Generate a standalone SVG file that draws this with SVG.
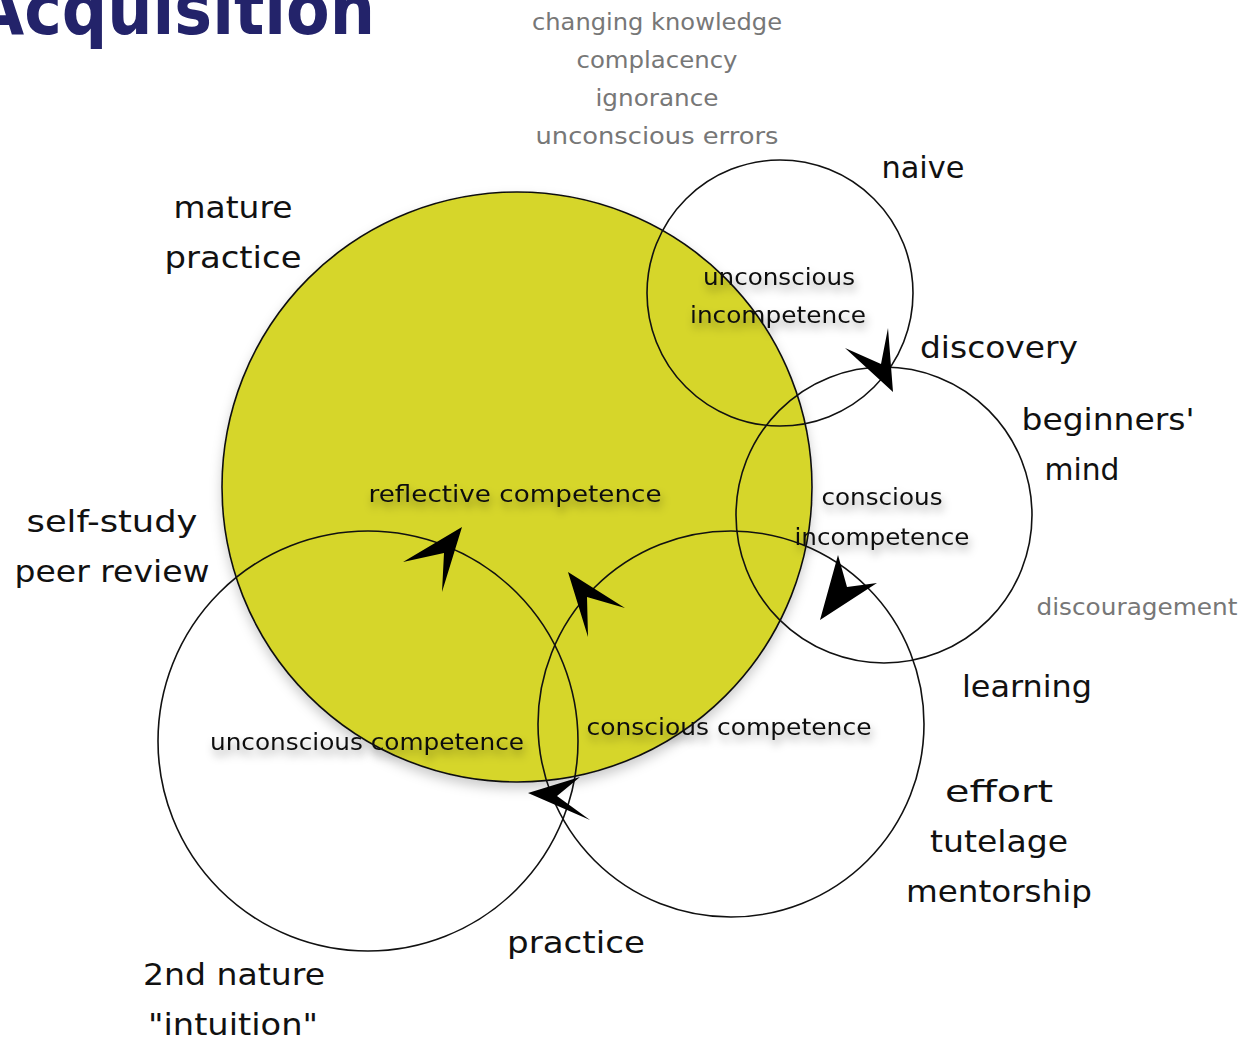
<svg xmlns="http://www.w3.org/2000/svg" width="1244" height="1044" viewBox="0 0 1244 1044">
<defs>
<style>
.c{fill:none;stroke:#111;stroke-width:1.6}
.lbl{font-family:"DejaVu Sans","Noto Sans",sans-serif;font-size:31px;fill:#111;text-anchor:middle}
.gr{font-family:"DejaVu Sans","Noto Sans",sans-serif;font-size:23px;fill:#777;text-anchor:middle}
.in{font-family:"DejaVu Sans","Noto Sans",sans-serif;font-size:23px;fill:#111;text-anchor:middle;filter:url(#sh)}
.ah{fill:#000}
</style>
<filter id="sh" x="-20%" y="-50%" width="140%" height="200%">
<feDropShadow dx="2" dy="6" stdDeviation="4" flood-color="#000" flood-opacity="0.35"/>
</filter>
<filter id="csh" x="-20%" y="-20%" width="140%" height="140%">
<feDropShadow dx="0" dy="6" stdDeviation="6" flood-color="#000" flood-opacity="0.2"/>
</filter>
</defs>
<rect width="1244" height="1044" fill="#fff"/>
<text x="375" y="34" text-anchor="end" textLength="400" lengthAdjust="spacingAndGlyphs" style="font-family:'DejaVu Sans',sans-serif;font-weight:bold;font-size:72px;fill:#23236a">Acquisition</text>
<g id="top-notes">
<text class="gr" x="657" y="30" textLength="250" lengthAdjust="spacingAndGlyphs">changing knowledge</text>
<text class="gr" x="657" y="68" textLength="161" lengthAdjust="spacingAndGlyphs">complacency</text>
<text class="gr" x="657" y="106" textLength="123" lengthAdjust="spacingAndGlyphs">ignorance</text>
<text class="gr" x="657" y="144" textLength="243" lengthAdjust="spacingAndGlyphs">unconscious errors</text>
</g>
<g id="reflective-competence">
<circle cx="517" cy="487" r="295" fill="#d6d62c" stroke="#111" stroke-width="1.6" filter="url(#csh)"/>
</g>
<g id="unconscious-incompetence"><circle class="c" cx="780" cy="293" r="133"/></g>
<g id="conscious-incompetence"><circle class="c" cx="884" cy="515" r="148"/></g>
<g id="conscious-competence"><circle class="c" cx="731" cy="724" r="193"/></g>
<g id="unconscious-competence"><circle class="c" cx="368" cy="741" r="210"/></g>
<g id="connectors">
<path class="ah" d="M893,392 L845,348 L881,364 L888,328 Z"/>
<path class="ah" d="M820,620 L838,555 L847,587 L877,583 Z"/>
<path class="ah" d="M462,527 L403,562 L444,553 L442,592 Z"/>
<path class="ah" d="M568,572 L625,608 L587,597 L588,637 Z"/>
<path class="ah" d="M528,793 L580,777 L557,796 L590,820 Z"/>
</g>
<g id="inner-labels">
<text class="in" x="779" y="285" textLength="152" lengthAdjust="spacingAndGlyphs">unconscious</text>
<text class="in" x="778" y="323" textLength="176" lengthAdjust="spacingAndGlyphs">incompetence</text>
<text class="in" x="515" y="502" textLength="293" lengthAdjust="spacingAndGlyphs">reflective competence</text>
<text class="in" x="882" y="505" textLength="121" lengthAdjust="spacingAndGlyphs">conscious</text>
<text class="in" x="882" y="545" textLength="175" lengthAdjust="spacingAndGlyphs">incompetence</text>
<text class="in" x="367" y="750" textLength="314" lengthAdjust="spacingAndGlyphs">unconscious competence</text>
<text class="in" x="729" y="735" textLength="285" lengthAdjust="spacingAndGlyphs">conscious competence</text>
</g>
<g id="outer-labels">
<text class="lbl" x="923" y="178" textLength="83" lengthAdjust="spacingAndGlyphs">naive</text>
<text class="lbl" x="233" y="218" textLength="119" lengthAdjust="spacingAndGlyphs">mature</text>
<text class="lbl" x="233" y="268" textLength="137" lengthAdjust="spacingAndGlyphs">practice</text>
<text class="lbl" x="999" y="358" textLength="158" lengthAdjust="spacingAndGlyphs">discovery</text>
<text class="lbl" x="1108" y="430" textLength="173" lengthAdjust="spacingAndGlyphs">beginners'</text>
<text class="lbl" x="1082" y="480" textLength="75" lengthAdjust="spacingAndGlyphs">mind</text>
<text class="lbl" x="112" y="532" textLength="171" lengthAdjust="spacingAndGlyphs">self-study</text>
<text class="lbl" x="112" y="582" textLength="195" lengthAdjust="spacingAndGlyphs">peer review</text>
<text class="gr" x="1137" y="615" textLength="201" lengthAdjust="spacingAndGlyphs">discouragement</text>
<text class="lbl" x="1027" y="697" textLength="130" lengthAdjust="spacingAndGlyphs">learning</text>
<text class="lbl" x="999" y="802" textLength="108" lengthAdjust="spacingAndGlyphs">effort</text>
<text class="lbl" x="999" y="852" textLength="138" lengthAdjust="spacingAndGlyphs">tutelage</text>
<text class="lbl" x="999" y="902" textLength="186" lengthAdjust="spacingAndGlyphs">mentorship</text>
<text class="lbl" x="576" y="953" textLength="138" lengthAdjust="spacingAndGlyphs">practice</text>
<text class="lbl" x="234" y="985" textLength="182" lengthAdjust="spacingAndGlyphs">2nd nature</text>
<text class="lbl" x="233" y="1035" textLength="170" lengthAdjust="spacingAndGlyphs">"intuition"</text>
</g>
</svg>
